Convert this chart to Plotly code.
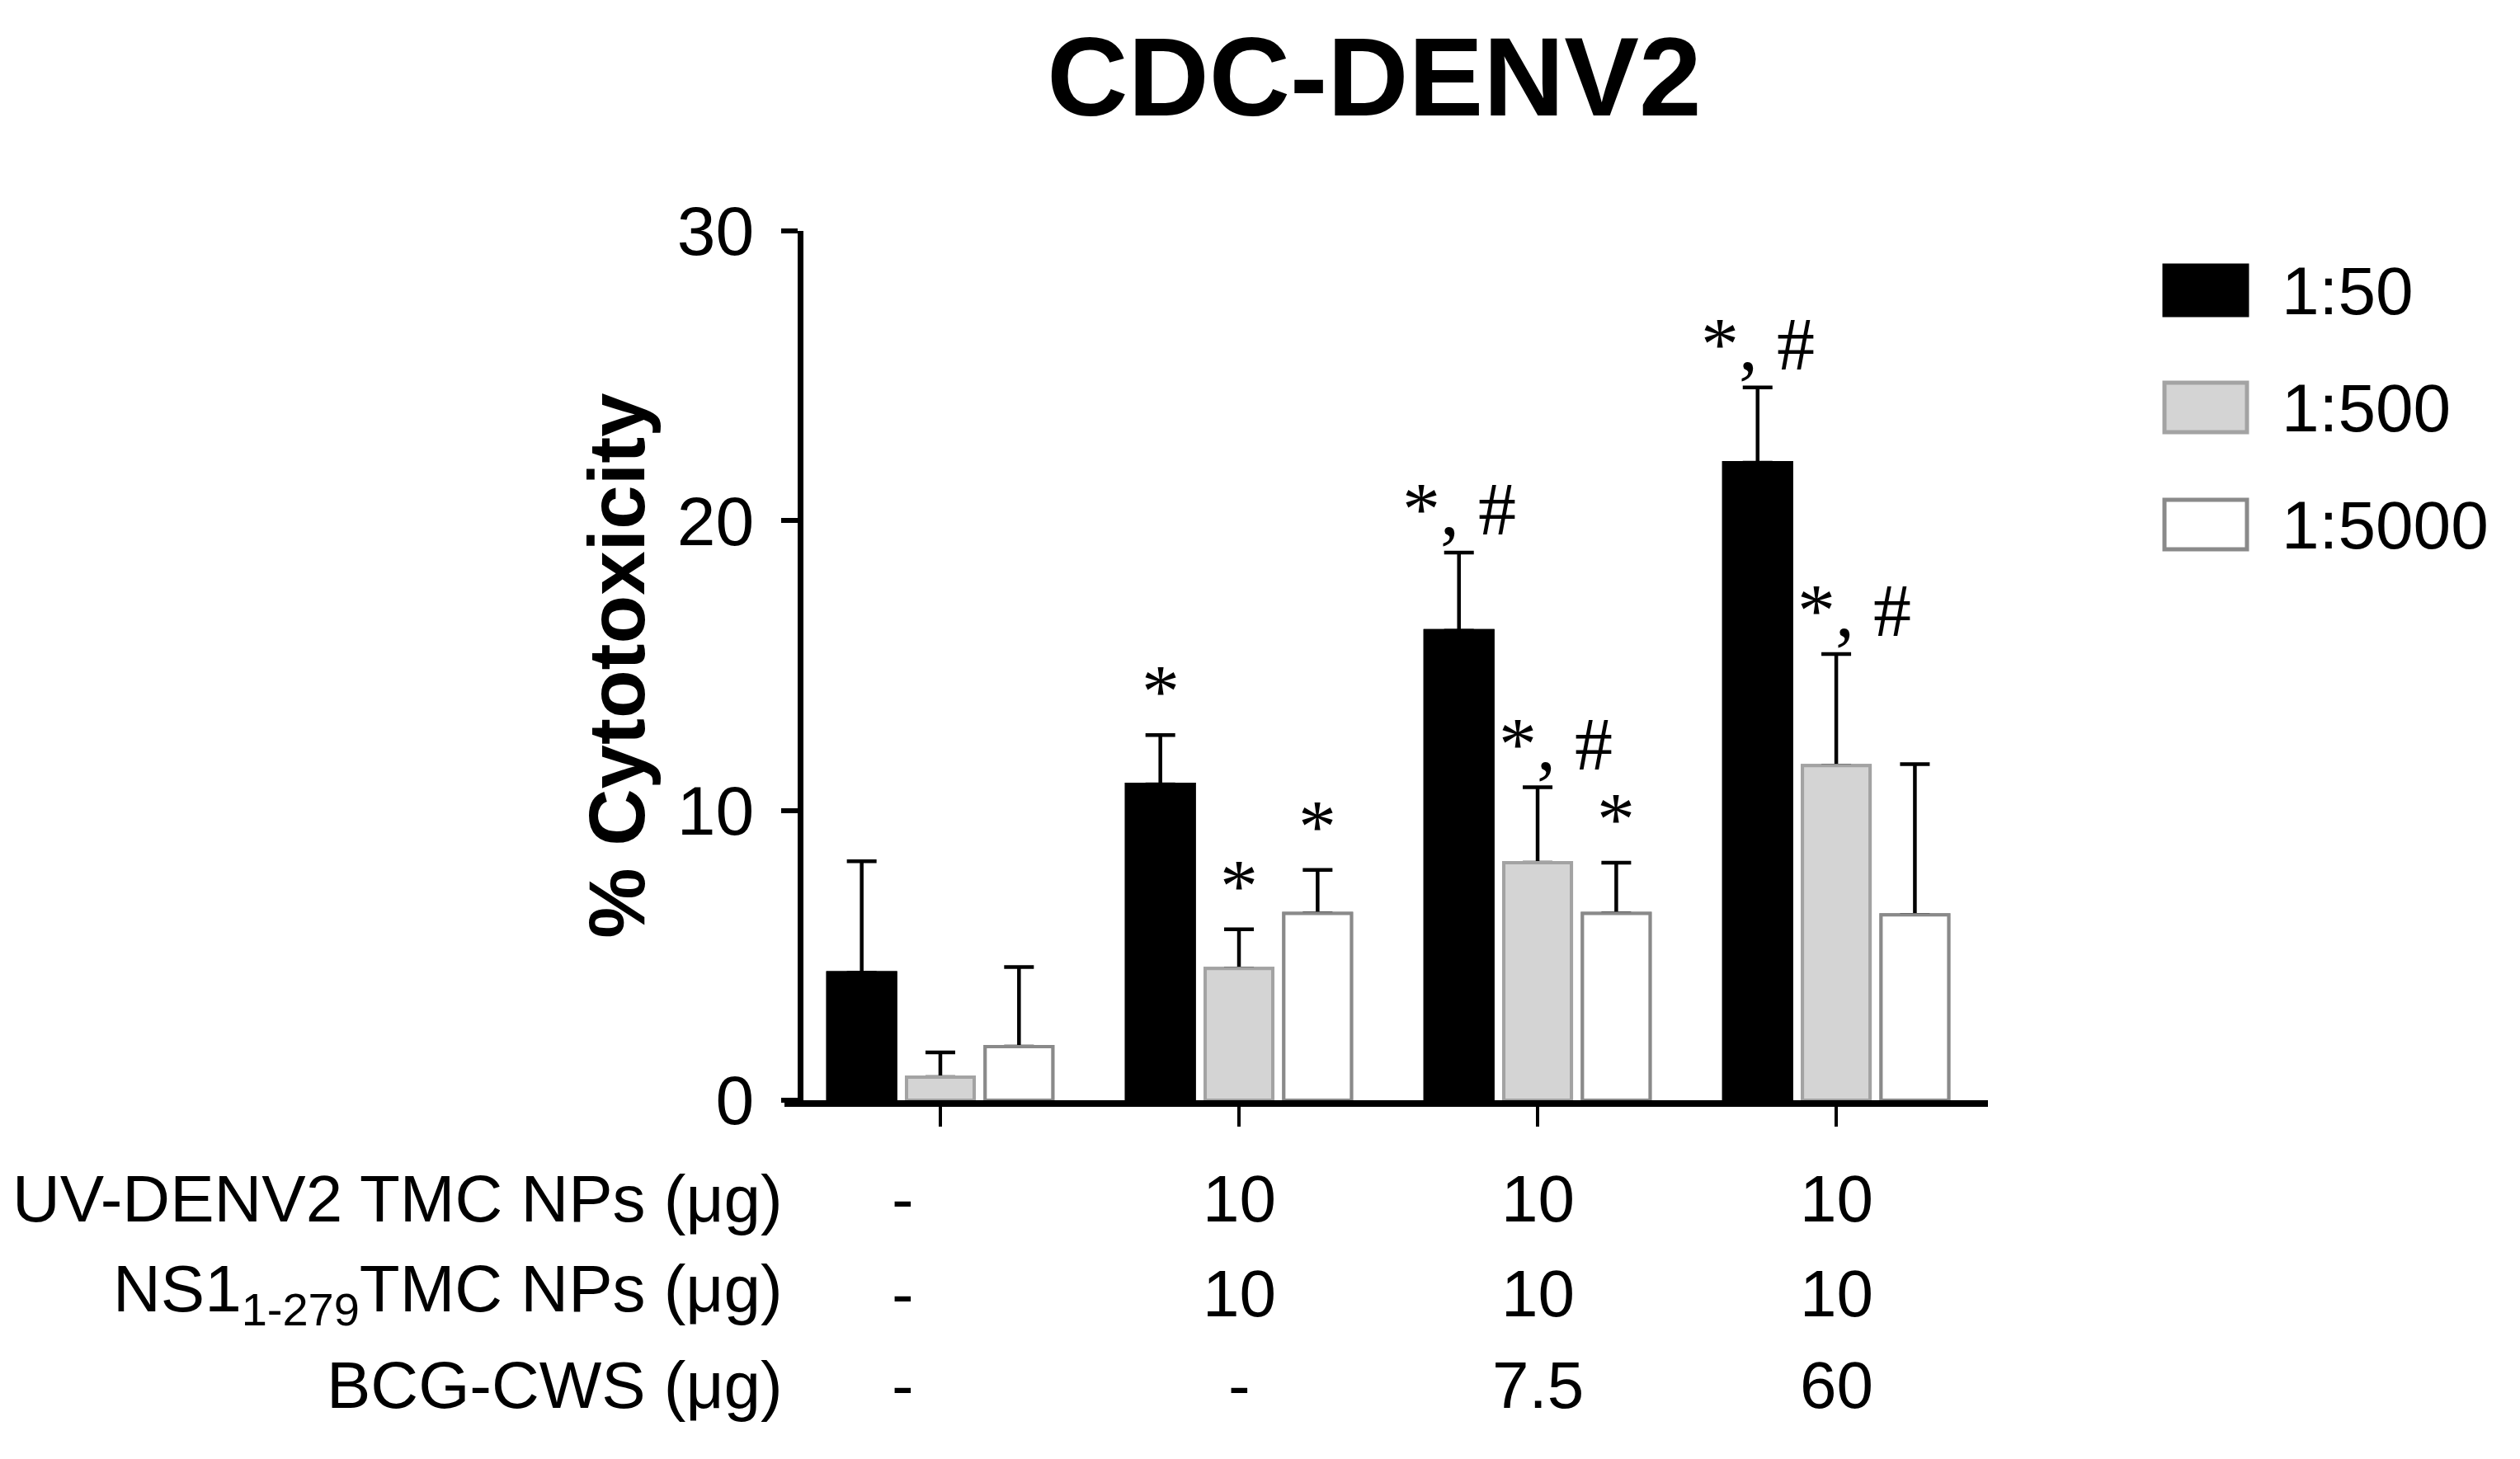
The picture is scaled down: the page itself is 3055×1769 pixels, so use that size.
import plotly.graph_objects as go

# ---------------- data ----------------
group_index = [0, 1, 2, 3]
series_names = ["1:50", "1:500", "1:5000"]
mean_1_50 = [4.4, 10.9, 16.2, 22.0]
err_1_50 = [3.85, 1.7, 2.7, 2.6]
mean_1_500 = [0.8, 4.55, 8.2, 11.55]
err_1_500 = [0.85, 1.35, 2.6, 3.85]
mean_1_5000 = [1.85, 6.45, 6.45, 6.4]
err_1_5000 = [2.75, 1.5, 1.75, 5.2]

sig_1_50 = ["", "*", "*, #", "*, #"]
sig_1_500 = ["", "*", "*, #", "*, #"]
sig_1_5000 = ["", "*", "*", ""]

row_labels = ["UV-DENV2 TMC NPs (μg)", "NS1<sub>1-279</sub>TMC NPs (μg)", "BCG-CWS (μg)"]
row_uv = ["-", "10", "10", "10"]
row_ns1 = ["-", "10", "10", "10"]
row_bcg = ["-", "-", "7.5", "60"]

y_ticks = [0, 10, 20, 30]

# ---------------- style ----------------
W, H = 3055, 1769
L, R, T, B = 951, 645, 280, 435
PW, PH = W - L - R, H - T - B
SANS = "Liberation Sans, Arial, sans-serif"
SERIF = "Liberation Serif, Times New Roman, serif"
fills = ["#000000", "#d4d4d4", "#ffffff"]
lines = ["#000000", "#a3a3a3", "#8a8a8a"]
BARGAP, GROUPGAP = 0.21, 0.14
slot = (1 - BARGAP) / 3

means = [mean_1_50, mean_1_500, mean_1_5000]
errs = [err_1_50, err_1_500, err_1_5000]
sigs = [sig_1_50, sig_1_500, sig_1_5000]

fig = go.Figure()
# bars with upward error bars (lower layer)
for k in range(3):
    fig.add_trace(go.Bar(
        x=group_index, y=means[k], name=series_names[k],
        marker=dict(color=fills[k], line=dict(color=lines[k], width=4)),
        error_y=dict(type="data", symmetric=False, array=errs[k],
                     arrayminus=[0] * len(errs[k]), color="#000000",
                     thickness=4.5, width=18),
        showlegend=False, hoverinfo="skip",
        xaxis="x", yaxis="y"))
# same bars again on an overlaid axis pair, so they sit over the error-bar feet
for k in range(3):
    fig.add_trace(go.Bar(
        x=group_index, y=means[k], name=series_names[k],
        marker=dict(color=fills[k], line=dict(color=lines[k], width=4)),
        showlegend=False, hoverinfo="skip",
        xaxis="x2", yaxis="y2"))

x_range = [-0.522, 3.508]
fig.update_layout(
    width=W, height=H,
    margin=dict(l=L, r=R, t=T, b=B, pad=0),
    paper_bgcolor="white", plot_bgcolor="white",
    barmode="group", bargap=BARGAP, bargroupgap=GROUPGAP,
    showlegend=False,
    font=dict(family=SANS, color="black", size=80),
    title=dict(text="<b>CDC-DENV2</b>", x=1666 / W, xanchor="center",
               y=1 - 92 / H, yanchor="middle",
               font=dict(family=SANS, size=136, color="black")),
    xaxis=dict(range=x_range, domain=[0, 1], showgrid=False, zeroline=False,
               showline=True, linecolor="black", linewidth=8,
               tickmode="array", tickvals=group_index, showticklabels=False,
               ticks="outside", ticklen=24, tickwidth=4, tickcolor="black"),
    yaxis=dict(range=[0, 30], anchor="free", position=(970 - L) / PW,
               showgrid=False, zeroline=False,
               showline=True, linecolor="black", linewidth=7,
               tickmode="array", tickvals=y_ticks,
               ticks="outside", ticklen=20, tickwidth=6, tickcolor="black",
               ticklabelstandoff=16,
               tickfont=dict(family=SANS, size=84, color="black"),
               title=dict(text="<b>% Cytotoxicity</b>", standoff=6,
                          font=dict(family=SANS, size=96, color="black"))),
    xaxis2=dict(range=x_range, overlaying="x", visible=False),
    yaxis2=dict(range=[0, 30], overlaying="y", anchor="free",
                position=(970 - L) / PW, visible=False),
)

# significance marks above the error bars
for k in range(3):
    for i in group_index:
        if sigs[k][i]:
            fig.add_annotation(
                x=i + (k - 1) * slot, y=means[k][i] + errs[k][i],
                xref="x", yref="y", text=sigs[k][i], showarrow=False,
                xanchor="center", yanchor="bottom", yshift=0,
                xshift=22 if (k == 1 and "#" in sigs[k][i]) else 0,
                font=dict(family=SERIF, size=92, color="black"))

# condition table below the axis
row_y_px = [1453, 1568, 1679]
rows = [row_uv, row_ns1, row_bcg]
for r in range(3):
    yp = (H - B - row_y_px[r]) / PH
    fig.add_annotation(x=(951 - L) / PW, y=yp, xref="paper", yref="paper",
                       text=row_labels[r], showarrow=False,
                       xanchor="right", yanchor="middle",
                       font=dict(family=SANS, size=80, color="black"))
    for i in group_index:
        fig.add_annotation(x=i, y=yp, xref="x", yref="paper",
                           text=rows[r][i], showarrow=False,
                           xanchor="center", yanchor="middle",
                           xshift=-45 if i == 0 else 0,
                           font=dict(family=SANS, size=80, color="black"))

# legend drawn by hand (large swatches)
leg_cy = [352, 494, 636]
for k in range(3):
    y0 = (H - B - (leg_cy[k] + 30)) / PH
    y1 = (H - B - (leg_cy[k] - 30)) / PH
    fig.add_shape(type="rect", xref="paper", yref="paper",
                  x0=(2624 - L) / PW, x1=(2724 - L) / PW, y0=y0, y1=y1,
                  fillcolor=fills[k], line=dict(color=lines[k], width=5))
    fig.add_annotation(x=(2764 - L) / PW, y=(H - B - leg_cy[k]) / PH,
                       xref="paper", yref="paper", text=series_names[k],
                       showarrow=False, xanchor="left", yanchor="middle",
                       font=dict(family=SANS, size=82, color="black"))

fig.write_html("out.html", config={"displayModeBar": False},
               post_script="document.body.style.margin='0';")
